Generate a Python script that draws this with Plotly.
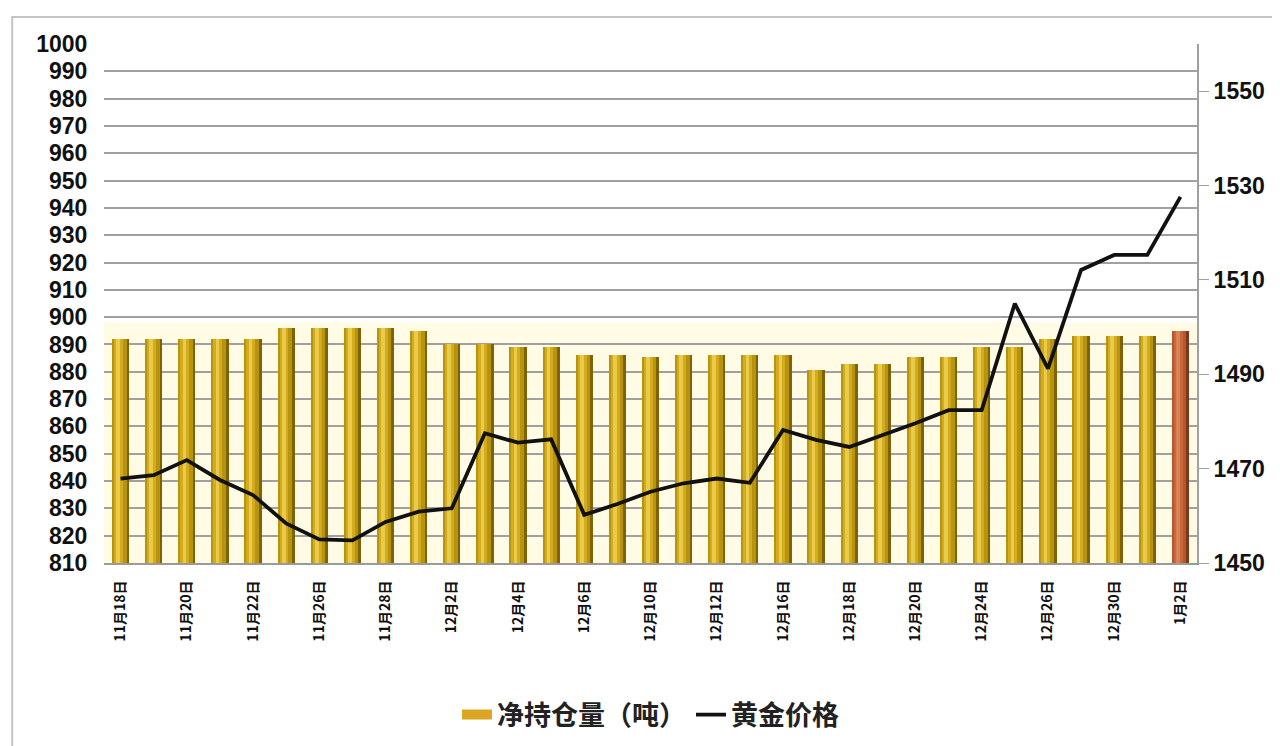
import plotly.graph_objects as go

tick_labels = ["11月18日", "11月20日", "11月22日", "11月26日", "11月28日", "12月2日",
               "12月4日", "12月6日", "12月10日", "12月12日", "12月16日", "12月18日",
               "12月20日", "12月24日", "12月26日", "12月30日", "1月2日"]

holdings = [892, 892, 892, 892, 892, 896, 896, 896, 896, 895,
            890, 890, 889, 889, 886, 886, 885.5, 886, 886, 886,
            886, 880.5, 883, 883, 885.5, 885.5, 889, 889, 892, 893,
            893, 893, 895]

gold_price = [1467.9, 1468.6, 1471.8, 1467.6, 1464.4, 1458.4, 1455.0, 1454.8, 1458.7, 1460.9,
              1461.6, 1477.5, 1475.5, 1476.2, 1460.2, 1462.5, 1465.1, 1466.9, 1467.9, 1467.0,
              1478.2, 1476.1, 1474.6, 1477.1, 1479.6, 1482.4, 1482.4, 1505.0, 1491.2, 1512.1,
              1515.3, 1515.3, 1527.6]

x = list(range(len(holdings)))
n = len(x)

def colors(normal, last):
    return [normal] * (n - 1) + [last]

fig = go.Figure()

# cylinder-like bars: layered widths (highlight slightly left of centre)
layers = [
    (0.52, -0.26, "#7f6204", "#7a3a1a"),
    (0.44, -0.26, "#b7940e", "#b45630"),
    (0.27, -0.20, "#d4ab1e", "#c8663c"),
    (0.11, -0.13, "#e9cb4a", "#da8256"),
]
for w, off, c, cl in layers:
    fig.add_trace(go.Bar(
        x=x, y=holdings, width=w, offset=off,
        marker=dict(color=colors(c, cl), line=dict(width=0)),
        name="净持仓量（吨）", showlegend=False, yaxis="y",
    ))

# legend entry for the bars (wide swatch)
fig.add_trace(go.Scatter(
    x=[None], y=[None], mode="lines", name="净持仓量（吨）",
    line=dict(color="#dca522", width=14), yaxis="y",
))

fig.add_trace(go.Scatter(
    x=x, y=gold_price, mode="lines", name="黄金价格", yaxis="y2",
    line=dict(color="#111111", width=3.8),
))

num_font = dict(family="Liberation Sans, Arial", size=23, color="#111111", weight="bold")

fig.update_layout(
    width=1280, height=746,
    margin=dict(l=96, r=91, t=36, b=191),
    paper_bgcolor="white", plot_bgcolor="white",
    barmode="overlay",
    bargap=0,
    showlegend=True,
    legend=dict(orientation="h", x=0.5, xanchor="center", y=-0.293, yanchor="middle",
                font=dict(family="Noto Sans CJK SC", size=27, color="#222222", weight="bold"),
                traceorder="normal"),
    xaxis=dict(
        range=[-0.5, n - 0.5], tickmode="array", tickvals=x[::2], ticktext=tick_labels,
        tickangle=-90, showgrid=False, zeroline=False, showline=True, linecolor="#9a9a9a", linewidth=2,
        ticks="outside", ticklen=10, tickcolor="rgba(0,0,0,0)",
        tickfont=dict(family="Noto Sans CJK SC", size=14, color="#111111", weight="bold"),
    ),
    yaxis=dict(
        range=[810, 1000], tickmode="linear", tick0=810, dtick=10,
        showgrid=True, gridcolor="#a0a0a0", gridwidth=2, zeroline=False, showline=False,
        ticks="outside", ticklen=11, tickcolor="rgba(0,0,0,0)",
        tickfont=num_font,
    ),
    yaxis2=dict(
        range=[1450, 1560], overlaying="y", side="right", tickmode="array",
        tickvals=[1450, 1470, 1490, 1510, 1530, 1550],
        showgrid=False, zeroline=False, showline=True, linecolor="#a0a0a0", linewidth=2,
        ticks="outside", ticklen=10, tickcolor="#a0a0a0",
        tickfont=num_font,
    ),
    shapes=[
        dict(type="rect", xref="paper", yref="y", x0=0, x1=1, y0=810, y1=898,
             fillcolor="#fffbe4", line=dict(width=0), layer="below"),
        dict(type="rect", xref="paper", yref="paper", x0=-0.084, x1=1.073, y0=-0.40, y1=1.052,
             fillcolor="rgba(0,0,0,0)", line=dict(color="#c4c4c4", width=2), layer="below"),
    ],
)

fig.write_html("out.html")
